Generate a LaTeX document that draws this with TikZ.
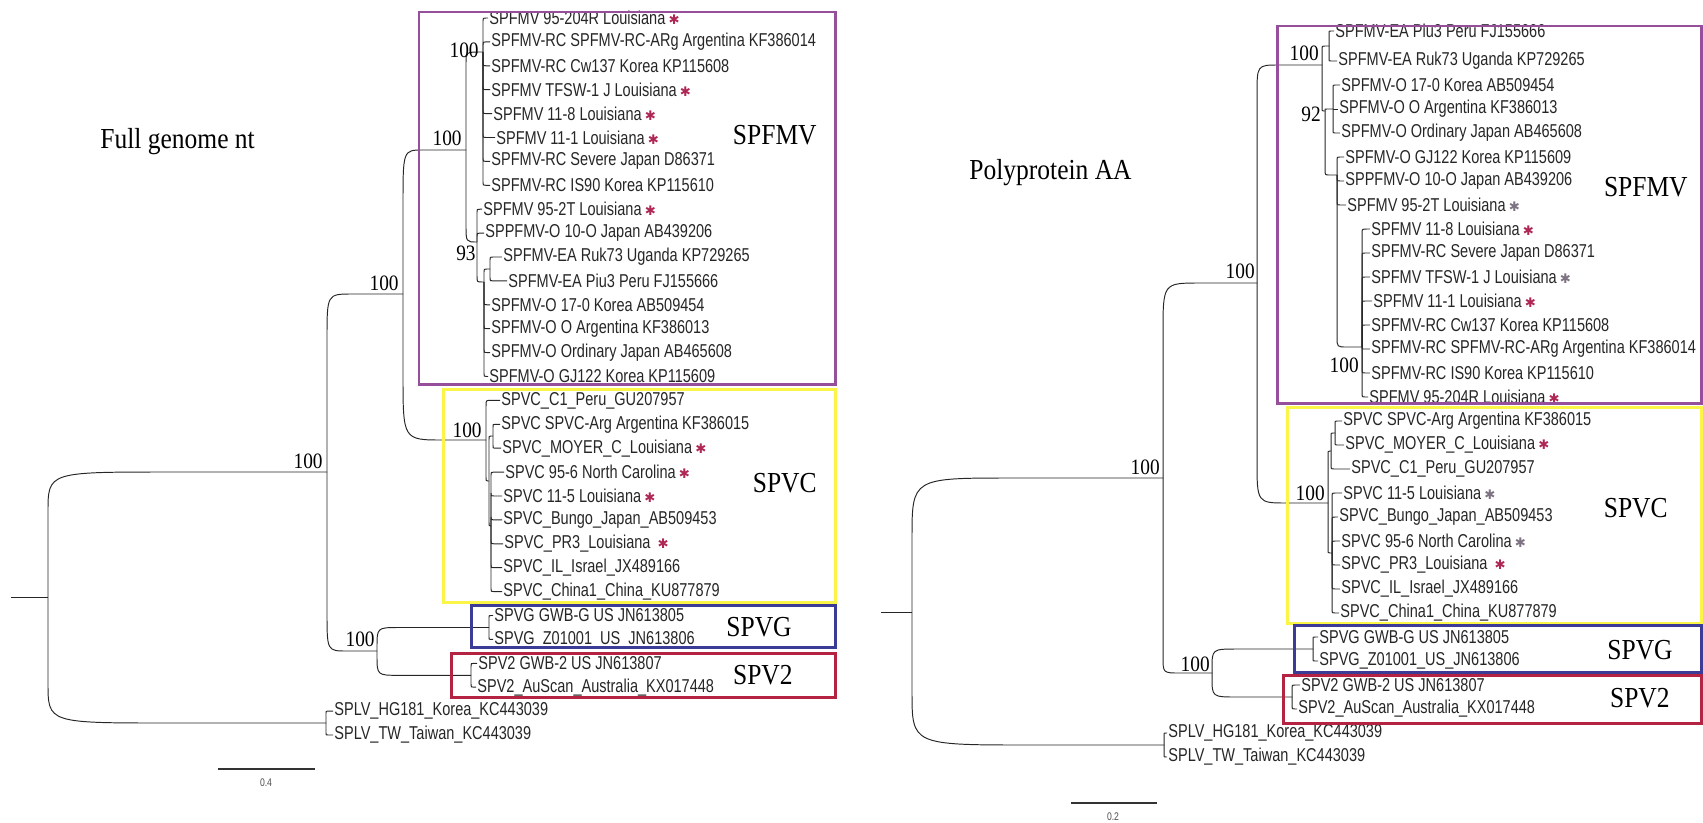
\documentclass[tikz,border=0pt]{standalone}
\usepackage{fontspec}
\setmainfont{Liberation Serif}
\newfontfamily\serifc{Liberation Serif}[FakeStretch=0.88]
\newfontfamily\tipfont{Liberation Sans}[FakeStretch=0.78]
\newfontfamily\starfont{DejaVu Sans}
\usetikzlibrary{calc}
\definecolor{astred}{RGB}{175,40,85}
\definecolor{astgray}{RGB}{125,115,130}
\definecolor{boxpurple}{RGB}{150,80,155}
\definecolor{boxyellow}{RGB}{250,245,70}
\definecolor{boxblue}{RGB}{60,60,150}
\definecolor{boxred}{RGB}{180,35,65}
\newcommand\rs{\,{\starfont\fontsize{7.5}{8}\selectfont\color{astred}\symbol{"2731}}}
\newcommand\gs{\,{\starfont\fontsize{7.5}{8}\selectfont\color{astgray}\symbol{"2731}}}
% branch with a soft corner: parent, child, corner width, corner height
\newcommand\branch[4]{\draw[br] (#1) -- ($(#1|-#2)+(0,#4)$) .. controls (#1|-#2) .. ($(#1|-#2)+(#3,0)$) -- (#2);}
\tikzset{
  tip/.style={anchor=west, inner xsep=0.6pt, inner ysep=0pt, text=black!85,
    font=\tipfont\fontsize{10.6}{12}\selectfont},
  boot/.style={inner sep=0pt, font=\serifc\fontsize{12.5}{14}\selectfont},
  clade/.style={anchor=east, inner sep=0pt, font=\serifc\fontsize{16.5}{19}\selectfont},
  title/.style={inner sep=0pt, font=\serifc\fontsize{16.5}{19}\selectfont},
  sbtext/.style={inner sep=0pt, text=black!70, font=\tipfont\fontsize{6.3}{7}\selectfont},
  br/.style={line width=0.55pt, black!85},
  cladebox/.style={line width=1.7pt}
}
\begin{document}
\begin{tikzpicture}[x=0.02cm, y=-0.02cm]
\useasboundingbox (0,0) rectangle (1703,822);

\node[title, anchor=west] (titleL) at (100,142) {Full genome nt};
\node[title, anchor=east] (titleR) at (1132,173) {Polyprotein AA};

% ---------------- left tree: full genome
\foreach \x/\t [count=\i from 0] in {
  488/SPFMV 95-204R Louisiana\rs,
  490/SPFMV-RC SPFMV-RC-ARg Argentina KF386014,
  490/SPFMV-RC Cw137 Korea KP115608,
  490/SPFMV TFSW-1 J Louisiana\rs,
  492/SPFMV 11-8 Louisiana\rs,
  495/SPFMV 11-1 Louisiana\rs,
  490/SPFMV-RC Severe Japan D86371,
  490/SPFMV-RC IS90 Korea KP115610,
  482/SPFMV 95-2T Louisiana\rs,
  484/SPPFMV-O 10-O Japan AB439206,
  502/SPFMV-EA Ruk73 Uganda KP729265,
  507/SPFMV-EA Piu3 Peru FJ155666,
  490/SPFMV-O 17-0 Korea AB509454,
  490/SPFMV-O O Argentina KF386013,
  490/SPFMV-O Ordinary Japan AB465608,
  488/SPFMV-O GJ122 Korea KP115609,
  500/SPVC\_C1\_Peru\_GU207957,
  500/SPVC SPVC-Arg Argentina KF386015,
  501/SPVC\_MOYER\_C\_Louisiana\rs,
  504/SPVC 95-6 North Carolina\rs,
  502/SPVC 11-5 Louisiana\rs,
  502/SPVC\_Bungo\_Japan\_AB509453,
  503/SPVC\_PR3\_Louisiana\ \rs,
  502/SPVC\_IL\_Israel\_JX489166,
  502/SPVC\_China1\_China\_KU877879,
  493/SPVG GWB-G US JN613805,
  493/SPVG\_Z01001\_US\_JN613806,
  477/SPV2 GWB-2 US JN613807,
  476/SPV2\_AuScan\_Australia\_KX017448,
  333/SPLV\_HG181\_Korea\_KC443039,
  333/SPLV\_TW\_Taiwan\_KC443039}
  \node[tip] (L\i) at (\x,18+23.9*\i) {\t};

\coordinate (Lstub) at (11,597);
\coordinate (Lroot) at (48,597);
\coordinate (Lin) at (327,472);
\coordinate (Lsplv) at (326,723);
\coordinate (Lfc) at (403,294);
\coordinate (Lg2) at (377,651);
\coordinate (Lfmv) at (466,150);
\coordinate (Lpvc) at (486,440);
\coordinate (Lrc) at (483,52);
\coordinate (Lo) at (477,242);
\coordinate (Lo3) at (484,282);
\coordinate (Lea) at (490,269);
\coordinate (Lpvc2) at (489,481);
\coordinate (Lcam) at (493,436);
\coordinate (Lpvc3) at (491,526);
\coordinate (Lpvg) at (489,627.5);
\coordinate (Lpv2) at (471,675.3);

\draw[br] (Lstub) -- (Lroot);
\branch{Lroot}{Lin}{120}{40}
\branch{Lroot}{Lsplv}{120}{-40}
\branch{Lin}{Lfc}{25}{45}
\branch{Lin}{Lg2}{20}{-39}
\branch{Lfc}{Lfmv}{20}{55}
\branch{Lfc}{Lpvc}{40}{-65}
\branch{Lfmv}{Lrc}{16}{11}
\branch{Lfmv}{Lo}{11}{-17}
\foreach \k in {0,1} {\branch{Lrc}{L\k.west}{3}{3}}
\foreach \k in {2,...,7} {\branch{Lrc}{L\k.west}{3}{-3}}
\branch{Lo}{L8.west}{3}{3}
\branch{Lo}{L9.west}{3}{3}
\branch{Lo}{Lo3}{5}{-6}
\branch{Lo3}{Lea}{3}{3}
\foreach \k in {12,...,15} {\branch{Lo3}{L\k.west}{3}{-3}}
\branch{Lea}{L10.west}{3}{3}
\branch{Lea}{L11.west}{3}{-3}
\branch{Lpvc}{L16.west}{4}{6}
\branch{Lpvc}{Lpvc2}{2}{-4}
\branch{Lpvc2}{Lcam}{2}{4}
\branch{Lpvc2}{Lpvc3}{2}{-4}
\branch{Lcam}{L17.west}{2}{3}
\branch{Lcam}{L18.west}{2}{-3}
\branch{Lpvc3}{L19.west}{3}{3}
\foreach \k in {20,...,24} {\branch{Lpvc3}{L\k.west}{3}{-3}}
\branch{Lg2}{Lpvg}{22}{20}
\branch{Lg2}{Lpv2}{22}{-20}
\branch{Lpvg}{L25.west}{2}{2}
\branch{Lpvg}{L26.west}{2}{-2}
\branch{Lpv2}{L27.west}{3}{3}
\branch{Lpv2}{L28.west}{3}{-3}
\branch{Lsplv}{L29.west}{2}{2}
\branch{Lsplv}{L30.west}{2}{-2}

\node[boot, anchor=south east] (bLin) at (323,469) {100};
\node[boot, anchor=south east] (bLfc) at (399,291) {100};
\node[boot, anchor=south east] (bLfmv) at (462,146) {100};
\node[boot, anchor=south east] (bLrc) at (479,58) {100};
\node[boot, anchor=north east] (bLo) at (476,246) {93};
\node[boot, anchor=south east] (bLpvc) at (482,438) {100};
\node[boot, anchor=south east] (bLg2) at (375,647) {100};

\draw[cladebox, boxpurple] (419,12) rectangle (835,384);
\draw[cladebox, boxyellow] (443,389) rectangle (835,602);
\draw[cladebox, boxblue] (471,605) rectangle (835,647);
\draw[cladebox, boxred] (451,653) rectangle (835,697);
\node[clade] (cLfmv) at (817,135) {SPFMV};
\node[clade] (cLpvc) at (817,483) {SPVC};
\node[clade] (cLpvg) at (792,627) {SPVG};
\node[clade] (cLpv2) at (793,675) {SPV2};

\coordinate (sbL1) at (218,769);
\coordinate (sbL2) at (315,769);
\draw[line width=0.8pt, black!80] (sbL1) -- (sbL2);
\node[sbtext] (sbLt) at (266,783) {0.4};

% ---------------- right tree: polyprotein
\foreach \x/\t [count=\i from 0] in {
  1334/SPFMV-EA Piu3 Peru FJ155666,
  1337/SPFMV-EA Ruk73 Uganda KP729265,
  1340/SPFMV-O 17-0 Korea AB509454,
  1338/SPFMV-O O Argentina KF386013,
  1340/SPFMV-O Ordinary Japan AB465608,
  1344/SPFMV-O GJ122 Korea KP115609,
  1344/SPPFMV-O 10-O Japan AB439206,
  1346/SPFMV 95-2T Louisiana\gs,
  1370/SPFMV 11-8 Louisiana\rs,
  1370/SPFMV-RC Severe Japan D86371,
  1370/SPFMV TFSW-1 J Louisiana\gs,
  1372/SPFMV 11-1 Louisiana\rs,
  1370/SPFMV-RC Cw137 Korea KP115608,
  1370/SPFMV-RC SPFMV-RC-ARg Argentina KF386014,
  1370/SPFMV-RC IS90 Korea KP115610,
  1368/SPFMV 95-204R Louisiana\rs,
  1342/SPVC SPVC-Arg Argentina KF386015,
  1344/SPVC\_MOYER\_C\_Louisiana\rs,
  1350/SPVC\_C1\_Peru\_GU207957,
  1342/SPVC 11-5 Louisiana\gs,
  1338/SPVC\_Bungo\_Japan\_AB509453,
  1340/SPVC 95-6 North Carolina\gs,
  1340/SPVC\_PR3\_Louisiana\ \rs,
  1340/SPVC\_IL\_Israel\_JX489166,
  1339/SPVC\_China1\_China\_KU877879,
  1318/SPVG GWB-G US JN613805,
  1318/SPVG\_Z01001\_US\_JN613806,
  1300/SPV2 GWB-2 US JN613807,
  1297/SPV2\_AuScan\_Australia\_KX017448,
  1167/SPLV\_HG181\_Korea\_KC443039,
  1167/SPLV\_TW\_Taiwan\_KC443039}
  \node[tip] (R\i) at (\x,{\i==0 ? 31 : 37+24*\i}) {\t};

\coordinate (Rstub) at (881,612);
\coordinate (Rroot) at (912,612);
\coordinate (Rin) at (1163,478);
\coordinate (Rsplv) at (1164,745);
\coordinate (Rfc) at (1257,283);
\coordinate (Rg2) at (1212,673);
\coordinate (Rfmv) at (1322,65);
\coordinate (Rpvc) at (1328,503);
\coordinate (Rea) at (1329,46);
\coordinate (Ro) at (1325,111);
\coordinate (Ro2) at (1333,109);
\coordinate (Ro3) at (1337,175);
\coordinate (Rrc) at (1362,347);
\coordinate (Rpa) at (1331,451);
\coordinate (Rcam) at (1335,433);
\coordinate (Rpb) at (1332,553);
\coordinate (Rpvg) at (1313,649);
\coordinate (Rpv2) at (1292,697);

\draw[br] (Rstub) -- (Rroot);
\branch{Rroot}{Rin}{100}{60}
\branch{Rroot}{Rsplv}{118}{-53}
\branch{Rin}{Rfc}{37}{50}
\branch{Rin}{Rg2}{17}{-16}
\branch{Rfc}{Rfmv}{22}{30}
\branch{Rfc}{Rpvc}{30}{-43}
\branch{Rfmv}{Rea}{3}{3}
\branch{Rfmv}{Ro}{2}{-3}
\branch{Rea}{R0.west}{2}{2}
\branch{Rea}{R1.west}{2}{-2}
\branch{Ro}{Ro2}{2}{1}
\branch{Ro}{Ro3}{4}{-6}
\branch{Ro2}{R2.west}{2}{3}
\draw[br] (Ro2) -- (R3.west);
\branch{Ro2}{R4.west}{2}{-3}
\branch{Ro3}{R5.west}{3}{3}
\foreach \k in {6,7} {\branch{Ro3}{R\k.west}{3}{-3}}
\branch{Ro3}{Rrc}{10}{-10}
\branch{Rrc}{R8.west}{5}{5}
\foreach \k in {9,...,12} {\branch{Rrc}{R\k.west}{3}{3}}
\branch{Rrc}{R13.west}{1}{-1}
\foreach \k in {14,15} {\branch{Rrc}{R\k.west}{3}{-3}}
\branch{Rpvc}{Rpa}{2}{4}
\branch{Rpvc}{Rpb}{2}{-4}
\branch{Rpa}{Rcam}{2}{3}
\branch{Rpa}{R18.west}{3}{-3}
\branch{Rcam}{R16.west}{2}{3}
\branch{Rcam}{R17.west}{2}{-3}
\foreach \k in {19,20,21} {\branch{Rpb}{R\k.west}{3}{3}}
\foreach \k in {22,23,24} {\branch{Rpb}{R\k.west}{3}{-3}}
\branch{Rg2}{Rpvg}{25}{20}
\branch{Rg2}{Rpv2}{25}{-20}
\branch{Rpvg}{R25.west}{2}{2}
\branch{Rpvg}{R26.west}{2}{-2}
\branch{Rpv2}{R27.west}{3}{3}
\branch{Rpv2}{R28.west}{3}{-3}
\branch{Rsplv}{R29.west}{2}{2}
\branch{Rsplv}{R30.west}{2}{-2}

\node[boot, anchor=south east] (bRin) at (1160,475) {100};
\node[boot, anchor=south east] (bRfc) at (1255,279) {100};
\node[boot, anchor=south east] (bRfmv) at (1319,61) {100};
\node[boot, anchor=south east] (bRo) at (1321,122) {92};
\node[boot, anchor=north east] (bRrc) at (1359,358) {100};
\node[boot, anchor=south east] (bRpvc) at (1325,501) {100};
\node[boot, anchor=south east] (bRg2) at (1210,672) {100};

\draw[cladebox, boxpurple] (1277,26) rectangle (1701,403);
\draw[cladebox, boxyellow] (1287,407) rectangle (1701,623);
\draw[cladebox, boxblue] (1294,625) rectangle (1701,672);
\draw[cladebox, boxred] (1283,675) rectangle (1701,723);
\node[clade] (cRfmv) at (1688,187) {SPFMV};
\node[clade] (cRpvc) at (1668,508) {SPVC};
\node[clade] (cRpvg) at (1673,650) {SPVG};
\node[clade] (cRpv2) at (1670,698) {SPV2};

\coordinate (sbR1) at (1071,803);
\coordinate (sbR2) at (1157,803);
\draw[line width=0.8pt, black!80] (sbR1) -- (sbR2);
\node[sbtext] (sbRt) at (1113,817) {0.2};
\end{tikzpicture}
\end{document}
